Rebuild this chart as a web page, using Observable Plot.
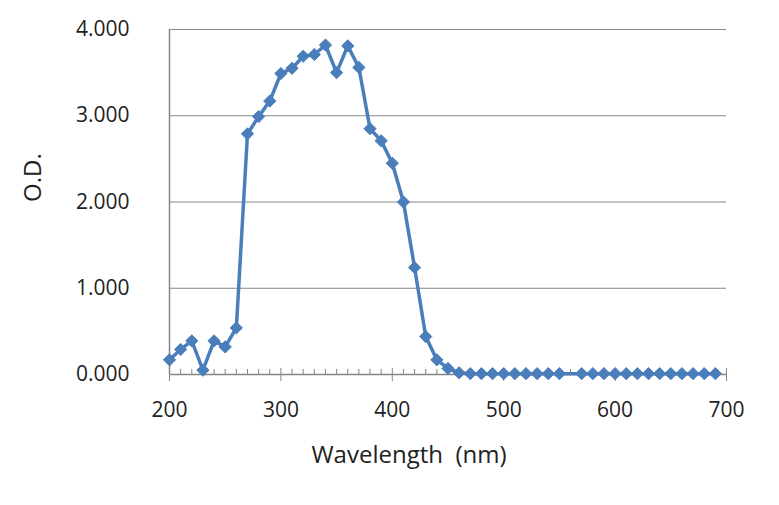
<!DOCTYPE html>
<html>
<head>
<meta charset="utf-8">
<script src="https://cdn.jsdelivr.net/npm/d3@7"></script>
<script src="https://cdn.jsdelivr.net/npm/@observablehq/plot@0.6"></script>
<style>
  html, body { margin: 0; padding: 0; background: #fff; }
</style>
</head>
<body>
<div id="chart"></div>
<script>
const wavelength = [200, 210, 220, 230, 240, 250, 260, 270, 280, 290, 300, 310, 320, 330, 340, 350, 360, 370, 380, 390, 400, 410, 420, 430, 440, 450, 460, 470, 480, 490, 500, 510, 520, 530, 540, 550, 570, 580, 590, 600, 610, 620, 630, 640, 650, 660, 670, 680, 690];
const od = [0.17, 0.29, 0.39, 0.05, 0.39, 0.32, 0.54, 2.79, 2.99, 3.17, 3.49, 3.55, 3.69, 3.71, 3.82, 3.50, 3.81, 3.56, 2.85, 2.71, 2.45, 2.00, 1.24, 0.44, 0.17, 0.07, 0.02, 0.01, 0.01, 0.01, 0.01, 0.01, 0.01, 0.01, 0.01, 0.01, 0.01, 0.01, 0.01, 0.01, 0.01, 0.01, 0.01, 0.01, 0.01, 0.01, 0.01, 0.01, 0.01];
const xMajorTicks = [200, 300, 400, 500, 600, 700];
const xMinorTicks = [210, 220, 230, 240, 250, 260, 270, 280, 290, 310, 320, 330, 340, 350, 360, 370, 380, 390, 410, 420, 430, 440, 450, 460, 470, 480, 490, 510, 520, 530, 540, 550, 560, 570, 580, 590, 610, 620, 630, 640, 650, 660, 670, 680, 690];
const yTicks = [0, 1, 2, 3, 4];
const xLabel = "Wavelength  (nm)";
const yLabel = "O.D.";

const data = wavelength.map((w, i) => ({w, od: od[i]}));
const lineColor = "#4a7ebb";
const axisColor = "#868686";
const font = "'Open Sans', 'Noto Sans', sans-serif";

const chart = Plot.plot({
  width: 779,
  height: 505,
  marginLeft: 169,
  marginRight: 53,
  marginTop: 29,
  marginBottom: 131,
  style: {fontFamily: font, fontSize: "21px", color: "#222", background: "#fff"},
  x: {domain: [200, 700]},
  y: {domain: [0, 4]},
  marks: [
    Plot.gridY([1, 2, 3, 4], {stroke: axisColor, strokeOpacity: 1, strokeWidth: 1}),
    Plot.ruleX([200], {y1: 0, y2: 4, stroke: axisColor, strokeWidth: 1.5}),
    Plot.ruleY([0], {stroke: axisColor, strokeWidth: 1.5}),
    Plot.axisX(xMinorTicks, {tickSize: -5, text: null, label: null, stroke: axisColor}),
    Plot.axisX(xMajorTicks, {tickSize: -6, text: null, label: null, stroke: axisColor}),
    Plot.axisX(xMajorTicks, {tickSize: 7, tickPadding: 21, tickFormat: d3.format("d"), label: null, stroke: axisColor, fill: "#222"}),
    Plot.axisY(yTicks, {tickSize: 0, tickPadding: 40, tickFormat: d3.format(".3f"), label: null, fill: "#222", style: {letterSpacing: "1.5px"}}),
    Plot.text([xLabel], {frameAnchor: "bottom", dx: -39, dy: 88, fontSize: 24, fill: "#222"}),
    Plot.text([yLabel], {frameAnchor: "left", dx: -136, rotate: -90, fontSize: 24, fill: "#222"}),
    Plot.line(data, {x: "w", y: "od", stroke: lineColor, strokeWidth: 3.5}),
    Plot.dot(data, {x: "w", y: "od", symbol: "diamond2", r: 5.5, fill: lineColor, stroke: lineColor, strokeWidth: 1})
  ]
});
document.getElementById("chart").appendChild(chart);
</script>
</body>
</html>
